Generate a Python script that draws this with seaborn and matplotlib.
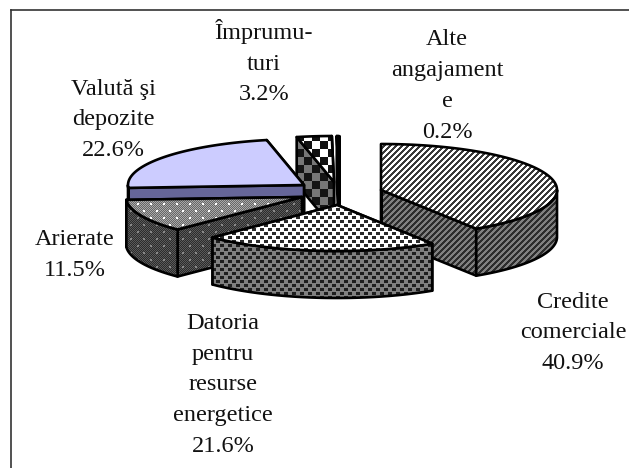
import numpy as np
import matplotlib
matplotlib.use("Agg")
import matplotlib.pyplot as plt
from matplotlib.patches import Polygon
import seaborn as sns

# ---- data ----
categories = ["Credite\ncomerciale", "Datoria\npentru\nresurse\nenergetice", "Arierate",
              "Valută şi\ndepozite", "Împrumu-\nturi", "Alte\nangajament\ne"]
shares = [40.9, 21.6, 11.5, 22.6, 3.2, 0.2]

# ---- layout (pixels of the reference) ----
W, H = 629, 468
RX, RY, DEPTH = 176, 46, 47
centres = [(381, 190), (337, 205), (302, 197), (304, 185), (334, 182), (339, 182)]
label_pos = [(573, 333), (223, 385), (75, 255), (113, 120), (264, 62), (447, 86)]
draw_order = [0, 4, 5, 3, 2, 1]
EDGE_LW = 1.9

sns.set_theme(style="white")
plt.rcParams["font.family"] = ["Liberation Serif", "DejaVu Serif"]

X, Y = np.meshgrid(np.arange(W), np.arange(H))


def rgb(h):
    return np.array(matplotlib.colors.to_rgb(h))


def paint(mask, bg, fg):
    img = np.empty((H, W, 3))
    img[...] = rgb(bg)
    img[mask] = rgb(fg)
    return img


def stripes(bg, fg):
    return paint((X + Y) % 6 < 3, bg, fg)


def dots(bg, fg):
    a = (X % 8 < 4) & (Y % 8 < 3)
    b = ((X + 4) % 8 < 4) & ((Y + 4) % 8 < 3)
    return paint(a | b, bg, fg)


def dither_dots(c1, c2, fg):
    img = paint((X + Y) % 2 == 0, c1, c2)
    a = (X % 13 < 2) & (Y % 14 < 2)
    b = ((X + 6) % 13 < 2) & ((Y + 7) % 14 < 2)
    img[a | b] = rgb(fg)
    return img


def checker(c1, c2):
    return paint(((X // 8) + ((Y + 3) // 8)) % 2 == 0, c1, c2)


top_fill = [stripes("#ffffff", "#3a3a3a"), dots("#ffffff", "#2a2a2a"),
            dither_dots("#666666", "#a8a8a8", "#ffffff"), "#ccccff",
            checker("#ffffff", "#111111"), "#000000"]
side_fill = [stripes("#808080", "#2c2c2c"), dots("#808080", "#1e1e1e"),
             dither_dots("#2c2c2c", "#5a5a5a", "#888888"), "#666699",
             checker("#777777", "#141414"), "#000000"]


def point(c, deg):
    t = np.radians(deg)
    return np.column_stack([c[0] + RX * np.sin(t), c[1] - RY * np.cos(t)])


def face(ax, pts, fill, z):
    if isinstance(fill, str):
        ax.add_patch(Polygon(pts, closed=True, fc=fill, ec="none", zorder=z))
    else:
        clip = Polygon(pts, closed=True, transform=ax.transData)
        im = ax.imshow(fill, extent=(0, W, H, 0), interpolation="nearest",
                       aspect="auto", zorder=z)
        im.set_clip_path(clip)
    ax.add_patch(Polygon(pts, closed=True, fc="none", ec="black", lw=EDGE_LW,
                         joinstyle="round", zorder=z + 0.001))


fig = plt.figure(figsize=(W / 100, H / 100), dpi=100, facecolor="white")
ax = fig.add_axes([11 / W, 0, (W - 11) / W, (H - 10) / H])

total = sum(shares)
edges = np.concatenate([[0], np.cumsum(shares) / total * 360])

z = 1
for i in draw_order:
    a0, a1 = edges[i], edges[i + 1]
    c = np.array(centres[i], float)
    down = np.array([0, DEPTH])
    for ang in (a1, a0):
        p = point(c, ang)[0]
        face(ax, [c, p, p + down, c + down], side_fill[i], z)
        z += 1
    lo, hi = max(a0, 90), min(a1, 270)
    if hi > lo:
        arc = point(c, np.linspace(lo, hi, 120))
        face(ax, np.vstack([arc, (arc + down)[::-1]]), side_fill[i], z)
        z += 1
    arc = point(c, np.linspace(a0, a1, 240))
    face(ax, np.vstack([c, arc]), top_fill[i], z)
    z += 1

for name, val, (x, y) in zip(categories, shares, label_pos):
    ax.text(x, y, f"{name}\n{val:.1f}%", ha="center", va="center", fontsize=17.5,
            color="#111111", linespacing=1.62, zorder=z + 1)

ax.set_xlim(11, W)
ax.set_ylim(H, 10)
ax.set_xticks([])
ax.set_yticks([])
sns.despine(ax=ax, top=False, left=False, right=True, bottom=True)
for s in ("top", "left"):
    ax.spines[s].set_color("#333333")
    ax.spines[s].set_linewidth(1.2)

fig.savefig("out.png", dpi=100, facecolor="white")
